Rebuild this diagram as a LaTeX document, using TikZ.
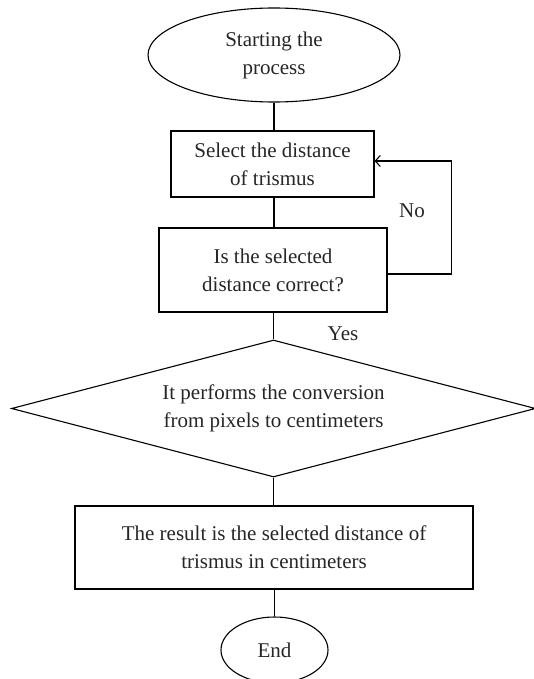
\documentclass[tikz,border=0pt]{standalone}
\usepackage{fontspec}
\setmainfont{Liberation Serif}
\usetikzlibrary{shapes.geometric,arrows.meta}
\begin{document}
\begin{tikzpicture}[x=1pt,y=-1pt,
  every node/.style={font=\fontsize{21}{28}\selectfont, align=center, inner sep=0pt, text=black!85},
  term/.style={draw, ellipse, line width=1.1pt},
  procbox/.style={draw, rectangle, line width=1.1pt},
  decbox/.style={draw, diamond, aspect=3.7, line width=1.1pt},
  conn/.style={line width=1.1pt},
  arr/.style={line width=1.1pt, -{Straight Barb[length=5pt,width=11pt]}},
  lbl/.style={}]
\useasboundingbox (0,0) rectangle (534,679);
\node[term, minimum width=252pt, minimum height=94pt] (start) at (274,55) {Starting the\\process};
\node[procbox, minimum width=203pt, minimum height=66pt] (box1) at (272.5,164) {Select the distance\\of trismus};
\node[procbox, minimum width=228pt, minimum height=84pt] (box2) at (273,270) {Is the selected\\distance correct?};
\node[decbox, minimum width=524pt, minimum height=137pt] (dec) at (273.5,408.5) {It performs the conversion\\from pixels to centimeters};
\node[procbox, minimum width=398pt, minimum height=83pt] (box3) at (274,547.5) {The result is the selected distance of\\trismus in centimeters};
\node[term, minimum width=107pt, minimum height=66pt] (end) at (274.5,650) {End};
\node[lbl] (no) at (412,211) {No};
\node[lbl] (yes) at (343,334) {Yes};
\draw[conn] (start.south) -- (start.south |- box1.north);
\draw[conn] (box1.south -| start.south) -- (box2.north -| start.south);
\draw[conn] (box2.south -| dec.north) -- (dec.north);
\draw[conn] (dec.south) -- (dec.south |- box3.north);
\draw[conn] (box3.south -| end.north) -- (end.north);
\draw[arr] ([yshift=-4pt]box2.east) -- ++(64,0) |- ([yshift=3pt]box1.east);
\end{tikzpicture}
\end{document}
